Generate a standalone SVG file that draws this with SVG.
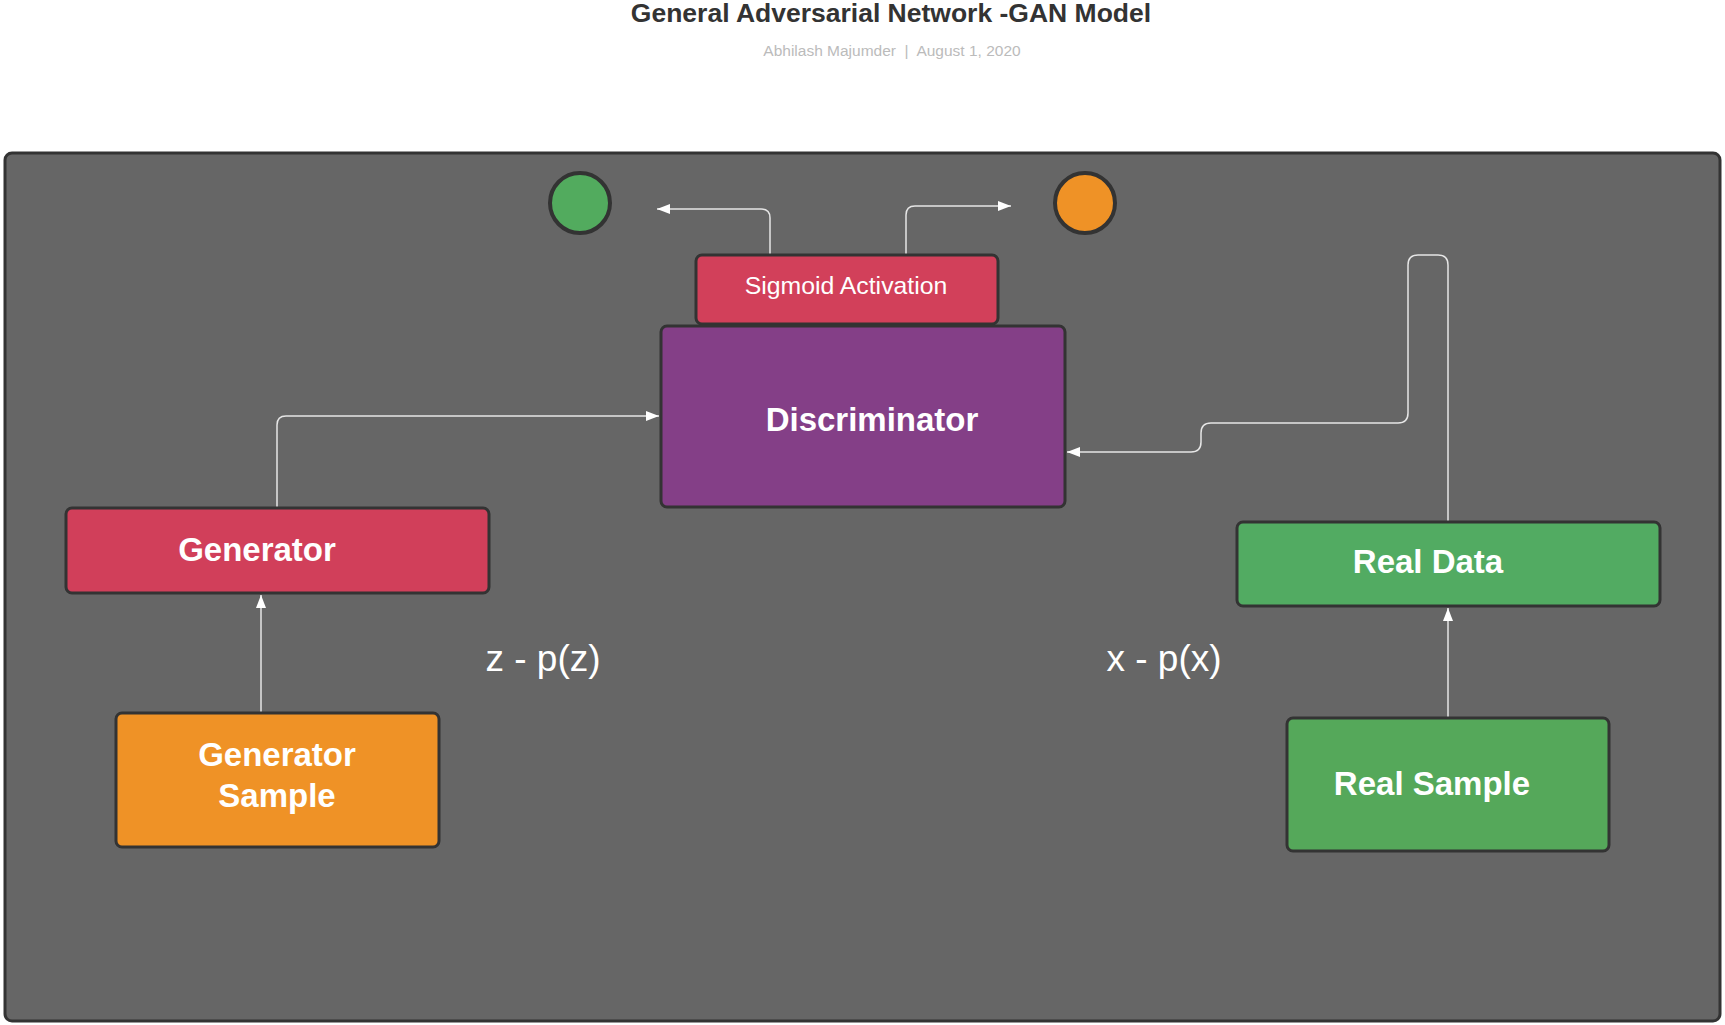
<svg xmlns="http://www.w3.org/2000/svg" width="1725" height="1025" viewBox="0 0 1725 1025">
<style>
.node{stroke:#333333;stroke-width:3}
.lbl{font-family:"Liberation Sans",Arial,sans-serif;font-weight:bold;font-size:33px;fill:#ffffff;text-anchor:middle}
.conn{fill:none;stroke:#e6e6e6;stroke-width:1.5}
.math{font-family:"Liberation Sans",Arial,sans-serif;font-size:37px;fill:#ffffff;text-anchor:middle}
</style>
<defs>
<marker id="arr" markerUnits="userSpaceOnUse" markerWidth="14" markerHeight="12" refX="13" refY="5" orient="auto">
<path d="M0,0 L13,5 L0,10 Z" fill="#ffffff"/>
</marker>
</defs>
<rect width="1725" height="1025" fill="#ffffff"/>
<text x="891" y="22" font-family="Liberation Sans,Arial,sans-serif" font-weight="bold" font-size="26.5" fill="#333333" text-anchor="middle">General Adversarial Network -GAN Model</text>
<text x="892" y="56" font-family="Liberation Sans,Arial,sans-serif" font-size="15.5" fill="#bbbbbb" text-anchor="middle" style="white-space:pre">Abhilash Majumder  |  August 1, 2020</text>
<g id="container">
<rect x="5" y="153" width="1715" height="868" rx="7" fill="#666666" stroke="#333333" stroke-width="3"/>
</g>
<g id="connectors">
<path class="conn" d="M261 713 V595" marker-end="url(#arr)"/>
<path class="conn" d="M277 507 V425 Q277 416 286 416 H659" marker-end="url(#arr)"/>
<path class="conn" d="M1448 717 V608" marker-end="url(#arr)"/>
<path class="conn" d="M1448 521 V265 Q1448 255 1438 255 H1418 Q1408 255 1408 265 V413 Q1408 423 1398 423 H1211 Q1201 423 1201 433 V442 Q1201 452 1191 452 H1067" marker-end="url(#arr)"/>
<path class="conn" d="M770 254 V218 Q770 209 761 209 H657" marker-end="url(#arr)"/>
<path class="conn" d="M906 254 V215 Q906 206 915 206 H1011" marker-end="url(#arr)"/>
</g>
<g id="circle-green">
<circle cx="580" cy="203" r="30" fill="#52ab5e" stroke="#333333" stroke-width="4"/>
</g>
<g id="circle-orange">
<circle cx="1085" cy="203" r="30" fill="#ef9226" stroke="#333333" stroke-width="4"/>
</g>
<g id="sigmoid">
<rect class="node" x="696" y="255" width="302" height="69" rx="6" fill="#d2405a"/>
<text x="846" y="294" font-family="Liberation Sans,Arial,sans-serif" font-size="24.8" fill="#ffffff" text-anchor="middle">Sigmoid Activation</text>
</g>
<g id="discriminator">
<rect class="node" x="661" y="326" width="404" height="181" rx="6" fill="#843f87"/>
<text class="lbl" x="872" y="431">Discriminator</text>
</g>
<g id="generator">
<rect class="node" x="66" y="508" width="423" height="85" rx="6" fill="#d13f5a"/>
<text class="lbl" x="257" y="561">Generator</text>
</g>
<g id="generator-sample">
<rect class="node" x="116" y="713" width="323" height="134" rx="6" fill="#ef9226"/>
<text class="lbl" x="277" y="766">Generator</text>
<text class="lbl" x="277" y="807">Sample</text>
</g>
<g id="real-data">
<rect class="node" x="1237" y="522" width="423" height="84" rx="6" fill="#52ab62"/>
<text class="lbl" x="1428" y="573">Real Data</text>
</g>
<g id="real-sample">
<rect class="node" x="1287" y="718" width="322" height="133" rx="6" fill="#55a85a"/>
<text class="lbl" x="1432" y="795">Real Sample</text>
</g>
<g id="labels">
<text class="math" x="543" y="671">z - p(z)</text>
<text class="math" x="1164" y="671">x - p(x)</text>
</g>
</svg>
